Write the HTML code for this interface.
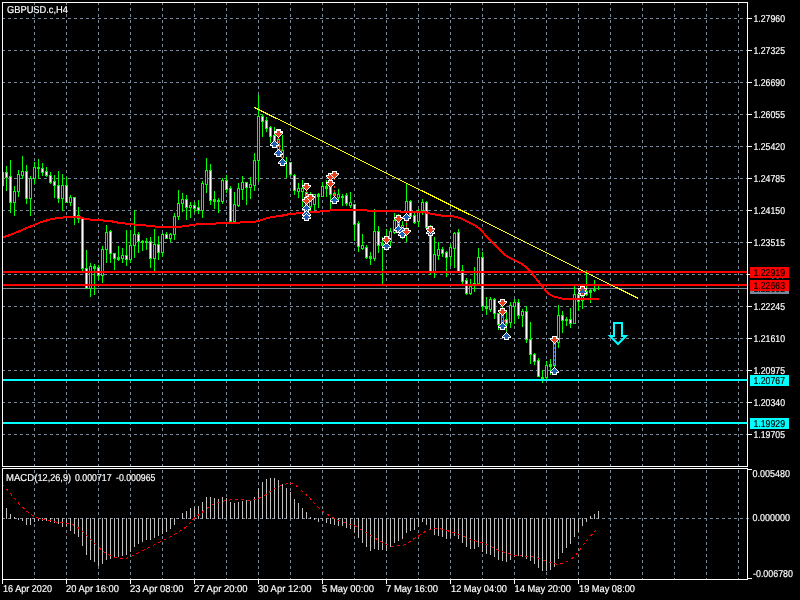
<!DOCTYPE html>
<html lang="en"><head><meta charset="utf-8"><title>GBPUSD.c,H4</title>
<style>html,body{margin:0;padding:0;background:#000;overflow:hidden}svg{display:block}</style></head>
<body>
<svg width="800" height="600" viewBox="0 0 800 600" shape-rendering="crispEdges" font-family="'Liberation Sans', sans-serif" font-size="10px">
<rect width="800" height="600" fill="#000"/>
<path d="M34.5 2V466M34.5 470V579M66.5 2V466M66.5 470V579M98.5 2V466M98.5 470V579M130.5 2V466M130.5 470V579M162.5 2V466M162.5 470V579M194.5 2V466M194.5 470V579M226.5 2V466M226.5 470V579M258.5 2V466M258.5 470V579M290.5 2V466M290.5 470V579M322.5 2V466M322.5 470V579M354.5 2V466M354.5 470V579M386.5 2V466M386.5 470V579M418.5 2V466M418.5 470V579M450.5 2V466M450.5 470V579M482.5 2V466M482.5 470V579M514.5 2V466M514.5 470V579M546.5 2V466M546.5 470V579M578.5 2V466M578.5 470V579M610.5 2V466M610.5 470V579M642.5 2V466M642.5 470V579M674.5 2V466M674.5 470V579M706.5 2V466M706.5 470V579M738.5 2V466M738.5 470V579M2 18.5H747M2 50.5H747M2 82.5H747M2 114.5H747M2 146.5H747M2 178.5H747M2 210.5H747M2 242.5H747M2 274.5H747M2 306.5H747M2 338.5H747M2 370.5H747M2 402.5H747M2 434.5H747M2 518.5H750" stroke="#778899" stroke-width="1" stroke-dasharray="3 3" fill="none"/>
<path d="M6.5 508V519M10.5 514V519M14.5 517V519M18.5 518V520M22.5 518V521M26.5 518V525M30.5 518V525M34.5 518V522M38.5 518V521M42.5 518V521M46.5 518V521M50.5 518V522M54.5 518V523M58.5 518V524M62.5 518V527M66.5 518V526M70.5 518V531M74.5 518V534M78.5 518V537M82.5 518V546M86.5 518V555M90.5 518V560M94.5 518V562M98.5 518V566M102.5 518V564M106.5 518V560M110.5 518V559M114.5 518V558M118.5 518V557M122.5 518V556M126.5 518V555M130.5 518V552M134.5 518V547M138.5 518V544M142.5 518V542M146.5 518V540M150.5 518V540M154.5 518V538M158.5 518V536M162.5 518V534M166.5 518V532M170.5 518V529M174.5 518V525M178.5 518V519M182.5 513V519M186.5 511V519M190.5 508V519M194.5 507V519M198.5 506V519M202.5 502V519M206.5 497V519M210.5 497V519M214.5 498V519M218.5 499V519M222.5 497V519M226.5 498V519M230.5 502V519M234.5 503V519M238.5 502V519M242.5 501V519M246.5 500V519M250.5 501V519M254.5 497V519M258.5 488V519M262.5 482V519M266.5 479V519M270.5 478V519M274.5 478V519M278.5 480V519M282.5 484V519M286.5 488V519M290.5 492V519M294.5 499V519M298.5 503V519M302.5 508V519M306.5 512V519M310.5 517V519M314.5 518V520M318.5 518V522M322.5 518V521M326.5 518V523M330.5 518V524M334.5 518V525M338.5 518V526M342.5 518V526M346.5 518V528M350.5 518V529M354.5 518V533M358.5 518V538M362.5 518V543M366.5 518V547M370.5 518V551M374.5 518V549M378.5 518V550M382.5 518V550M386.5 518V551M390.5 518V547M394.5 518V543M398.5 518V541M402.5 518V539M406.5 518V533M410.5 518V531M414.5 518V530M418.5 518V527M422.5 518V522M426.5 518V525M430.5 518V529M434.5 518V535M438.5 518V536M442.5 518V537M446.5 518V539M450.5 518V538M454.5 518V536M458.5 518V539M462.5 518V543M466.5 518V547M470.5 518V549M474.5 518V549M478.5 518V547M482.5 518V552M486.5 518V554M490.5 518V555M494.5 518V557M498.5 518V560M502.5 518V561M506.5 518V562M510.5 518V560M514.5 518V557M518.5 518V556M522.5 518V557M526.5 518V559M530.5 518V561M534.5 518V564M538.5 518V568M542.5 518V571M546.5 518V571M550.5 518V570M554.5 518V567M558.5 518V559M562.5 518V553M566.5 518V548M570.5 518V544M574.5 518V537M578.5 518V532M582.5 518V526M586.5 518V522M590.5 516V519M594.5 514V519M598.5 511V519" stroke="#C0C0C0" stroke-width="1" fill="none"/>
<polyline points="3,485 10,493 20,505 30,514 36,517.5 46,520 56,522 66,523 72,524 80,529 88,537 96,545 104,552 112,556.5 118,558 126,558.5 132,556 140,552 148,548 156,544 160,542 170,537 180,531 186,527 194,518.5 200,514 206,509 212,505 218,502.5 226,500.5 234,499.5 244,500 250,500.5 256,499.5 262,497 268,493 274,489 280,486 286,484 290,483 294,484.5 298,487 304,493 308,496 316,505 322,511 330,516 338,520 346,523 354,525.5 362,530 370,535 378,540 384,543 390,546 396,546 404,545 412,540 420,535 426,531 432,529 438,528.5 444,529.5 450,531.5 458,534 466,537.5 474,540.5 482,542.5 490,546 498,550 506,553 514,555 522,556 530,556.5 538,558 546,561 552,563 558,564.5 564,563 570,560 576,555 580,549.5 584,544 588,539 592,534.5 596,530" stroke="#FF0000" stroke-width="1" stroke-dasharray="3 3" stroke-dashoffset="1" fill="none"/>
<path d="M3 288.5H747" stroke="#778899" stroke-width="1"/>
<path d="M6.5 166V191M10.5 160V213M14.5 186V216M18.5 170V197M22.5 156V179M26.5 165V204M30.5 176V216M34.5 162V184M38.5 159V179M42.5 163V176M46.5 167V177M50.5 172V184M54.5 175V198M58.5 171V203M62.5 174V211M66.5 177V203M70.5 195V206M74.5 197V225M78.5 207V223M82.5 218V271M86.5 250V289M90.5 263V297M94.5 264V295M98.5 265V280M102.5 246V283M106.5 225V263M110.5 230V263M114.5 253V270M118.5 246V261M122.5 248V263M126.5 230V266M130.5 230V263M134.5 210V258M138.5 232V253M142.5 240V251M146.5 238V250M150.5 237V268M154.5 229V271M158.5 236V260M162.5 233V257M166.5 232V239M170.5 233V242M174.5 213V240M178.5 190V220M182.5 193V212M186.5 195V220M190.5 202V218M194.5 202V213M198.5 200V214M202.5 181V218M206.5 158V193M210.5 164V205M214.5 191V209M218.5 198V213M222.5 178V204M226.5 175V193M230.5 186V223M234.5 192V223M238.5 183V207M242.5 176V200M246.5 182V205M250.5 177V199M254.5 153V191M258.5 95V182M262.5 114V137M266.5 117V132M270.5 126V143M274.5 127V148M278.5 130V151M282.5 135V161M286.5 157V178M290.5 162V176M294.5 174V195M298.5 183V198M302.5 180V207M306.5 186V214M310.5 192V213M314.5 194V210M318.5 193V208M322.5 182V197M326.5 180V197M330.5 181V210M334.5 190V198M338.5 189V201M342.5 194V206M346.5 193V206M350.5 192V208M354.5 204V241M358.5 221V252M362.5 234V250M366.5 245V259M370.5 252V265M374.5 209V261M378.5 226V253M382.5 237V285M386.5 229V250M390.5 228V247M394.5 213V234M398.5 214V233M402.5 221V239M406.5 183V242M410.5 200V217M414.5 213V224M418.5 209V227M422.5 199V215M426.5 201V229M430.5 225V275M434.5 237V278M438.5 242V260M442.5 247V257M446.5 251V277M450.5 244V266M454.5 232V268M458.5 229V272M462.5 265V285M466.5 278V295M470.5 279V295M474.5 267V292M478.5 248V285M482.5 252V311M486.5 297V315M490.5 297V312M494.5 298V319M498.5 313V330M502.5 302V329M506.5 312V333M510.5 302V328M514.5 299V324M518.5 299V319M522.5 309V327M526.5 306V343M530.5 322V364M534.5 353V365M538.5 358V377M542.5 370V383M546.5 361V379M550.5 359V375M554.5 338V367M558.5 305V348M562.5 311V333M566.5 317V326M570.5 308V328M574.5 286V324M578.5 294V311M582.5 289V309M586.5 270V296M590.5 289V303M594.5 280V292M598.5 286V290M3.5 172V186" stroke="#00FF00" stroke-width="1" fill="none"/>
<path d="M37 167h3v2h-3zM93 266h3v3h-3zM117 257h3v3h-3zM141 241h3v2h-3zM145 241h3v2h-3zM213 199h3v3h-3zM217 200h3v2h-3zM317 194h3v3h-3zM325 186h3v3h-3zM333 193h3v3h-3zM341 196h3v2h-3zM369 256h3v3h-3zM381 243h3v3h-3zM473 283h3v2h-3zM485 306h3v3h-3zM541 377h3v3h-3zM549 364h3v3h-3zM565 319h3v2h-3zM589 290h3v3h-3zM593 289h3v2h-3zM597 288h3v1h-3z" fill="#00FF00"/>
<path d="M13.5 191.5h2v11h-2zM17.5 174.5h2v17h-2zM21.5 171.5h2v4h-2zM29.5 178.5h2v20h-2zM33.5 167.5h2v11h-2zM61.5 185.5h2v13h-2zM69.5 197.5h2v5h-2zM77.5 215.5h2v3h-2zM89.5 266.5h2v22h-2zM101.5 249.5h2v26h-2zM105.5 232.5h2v17h-2zM121.5 255.5h2v3h-2zM129.5 245.5h2v14h-2zM133.5 234.5h2v11h-2zM153.5 244.5h2v14h-2zM161.5 234.5h2v18h-2zM169.5 234.5h2v4h-2zM173.5 216.5h2v18h-2zM177.5 203.5h2v13h-2zM181.5 199.5h2v4h-2zM189.5 205.5h2v2h-2zM201.5 183.5h2v27h-2zM205.5 170.5h2v14h-2zM221.5 180.5h2v21h-2zM233.5 204.5h2v17h-2zM237.5 188.5h2v17h-2zM241.5 182.5h2v7h-2zM249.5 184.5h2v3h-2zM253.5 160.5h2v25h-2zM257.5 116.5h2v44h-2zM277.5 139.5h2v10h-2zM281.5 150.5h2v7h-2zM297.5 188.5h2v3h-2zM301.5 188.5h2v3h-2zM309.5 198.5h2v8h-2zM313.5 194.5h2v10h-2zM321.5 186.5h2v10h-2zM337.5 194.5h2v3h-2zM349.5 202.5h2v3h-2zM361.5 245.5h2v3h-2zM373.5 231.5h2v27h-2zM389.5 231.5h2v10h-2zM393.5 220.5h2v12h-2zM401.5 225.5h2v6h-2zM405.5 201.5h2v11h-2zM417.5 211.5h2v10h-2zM421.5 202.5h2v8h-2zM433.5 254.5h2v17h-2zM437.5 249.5h2v6h-2zM449.5 247.5h2v9h-2zM453.5 233.5h2v15h-2zM469.5 286.5h2v7h-2zM477.5 257.5h2v26h-2zM489.5 299.5h2v10h-2zM501.5 313.5h2v9h-2zM509.5 305.5h2v17h-2zM513.5 302.5h2v4h-2zM521.5 311.5h2v4h-2zM545.5 365.5h2v12h-2zM553.5 343.5h2v22h-2zM557.5 315.5h2v27h-2zM573.5 294.5h2v29h-2zM581.5 296.5h2v4h-2zM585.5 291.5h2v3h-2z" stroke="#00FF00" stroke-width="1" fill="#000"/>
<path d="M5.5 172.5h2v5h-2zM9.5 176.5h2v26h-2zM25.5 171.5h2v27h-2zM41.5 168.5h2v4h-2zM45.5 171.5h2v4h-2zM49.5 175.5h2v7h-2zM53.5 181.5h2v4h-2zM57.5 185.5h2v13h-2zM65.5 185.5h2v17h-2zM73.5 197.5h2v19h-2zM81.5 218.5h2v50h-2zM85.5 268.5h2v20h-2zM97.5 267.5h2v8h-2zM109.5 231.5h2v22h-2zM113.5 253.5h2v5h-2zM125.5 255.5h2v4h-2zM137.5 234.5h2v7h-2zM149.5 241.5h2v17h-2zM157.5 244.5h2v8h-2zM165.5 234.5h2v4h-2zM185.5 199.5h2v8h-2zM193.5 205.5h2v3h-2zM197.5 207.5h2v3h-2zM209.5 170.5h2v30h-2zM225.5 180.5h2v9h-2zM229.5 188.5h2v33h-2zM245.5 182.5h2v5h-2zM261.5 116.5h2v5h-2zM265.5 120.5h2v8h-2zM269.5 127.5h2v9h-2zM273.5 135.5h2v5h-2zM289.5 162.5h2v12h-2zM293.5 175.5h2v15h-2zM305.5 192.5h2v14h-2zM329.5 187.5h2v7h-2zM345.5 195.5h2v8h-2zM353.5 204.5h2v20h-2zM357.5 223.5h2v23h-2zM365.5 247.5h2v10h-2zM377.5 231.5h2v14h-2zM385.5 237.5h2v8h-2zM397.5 218.5h2v9h-2zM409.5 201.5h2v15h-2zM413.5 215.5h2v7h-2zM425.5 202.5h2v25h-2zM429.5 227.5h2v44h-2zM441.5 249.5h2v4h-2zM445.5 252.5h2v5h-2zM457.5 232.5h2v39h-2zM461.5 270.5h2v11h-2zM465.5 280.5h2v13h-2zM481.5 257.5h2v49h-2zM493.5 299.5h2v14h-2zM497.5 313.5h2v11h-2zM505.5 319.5h2v4h-2zM517.5 302.5h2v13h-2zM525.5 311.5h2v28h-2zM529.5 339.5h2v15h-2zM533.5 354.5h2v7h-2zM537.5 360.5h2v16h-2zM561.5 315.5h2v5h-2zM569.5 319.5h2v4h-2zM577.5 294.5h2v7h-2z" stroke="#00FF00" stroke-width="1" fill="#FFF"/>
<path d="M3 272H747M3 285H747" stroke="#FF0000" stroke-width="2"/>
<path d="M3 380H747M3 423H747" stroke="#00FFFF" stroke-width="2"/>
<polyline points="3,237.3 10,235 18,231.8 26,228.3 34,225 42,221.8 50,219.5 58,218 66,217.2 80,217.4 84,218.5 90,219.5 96,220 110,221 120,223 134,224.5 146,225.5 155,226.5 182,226.5 186,226 192,225 200,224 214,224 218,223 238,223 242,222 254,222 258,221 262,220 266,218.5 272,217 280,216 290,214 300,213.2 310,212.5 322,211.3 335,210 345,209.8 365,209.8 368,211 398,211 402,212 425,212 428,213 432,214 438,215 444,216 454,216.5 458,217.5 462,219 468,222 474,225 478,227.5 482,231 486,236 490,240 494,244 500,250 505,255 510,258 516,261 522,264 526,267 530,271 534,276 538,281 542,286 546,291 550,294.5 554,296.5 558,297.5 562,298.5 566,299 599,299" stroke="#FF0000" stroke-width="2" fill="none" stroke-linejoin="round"/>
<path d="M254.5 107.5L638.5 298.5" stroke="#FFFF00" stroke-width="1"/>
<path d="M278.5 137L274.5 141" stroke="#E8401C" stroke-width="1" stroke-dasharray="2 2" shape-rendering="auto"/><path d="M278.5 137L278.5 150" stroke="#E8401C" stroke-width="1" stroke-dasharray="2 2" shape-rendering="auto"/><path d="M278.5 137L282.5 159" stroke="#E8401C" stroke-width="1" stroke-dasharray="2 2" shape-rendering="auto"/><path d="M276 129h5v1h-5zM276 130h5v1h-5zM274 131h9v1h-9zM274 132h9v1h-9zM275 133h7v1h-7zM276 134h5v1h-5zM277 135h3v1h-3zM278 136h1v1h-1z" fill="#FFF"/><path d="M277 130h3v1h-3zM277 131h3v1h-3zM275 132h7v1h-7zM276 133h5v1h-5zM277 134h3v1h-3zM278 135h1v1h-1z" fill="#E8401C"/><path d="M276 130h5v1h-5zM276 131h5v1h-5zM274 132h9v1h-9zM274 133h9v1h-9zM275 134h7v1h-7zM276 135h5v1h-5zM277 136h3v1h-3zM278 137h1v1h-1z" fill="#FFF"/><path d="M277 131h3v1h-3zM277 132h3v1h-3zM275 133h7v1h-7zM276 134h5v1h-5zM277 135h3v1h-3zM278 136h1v1h-1z" fill="#E8401C"/><path d="M272 147h5v1h-5zM272 146h5v1h-5zM270 145h9v1h-9zM270 144h9v1h-9zM271 143h7v1h-7zM272 142h5v1h-5zM273 141h3v1h-3zM274 140h1v1h-1z" fill="#FFF"/><path d="M273 146h3v1h-3zM273 145h3v1h-3zM271 144h7v1h-7zM272 143h5v1h-5zM273 142h3v1h-3zM274 141h1v1h-1z" fill="#1C5DB8"/><path d="M276 156h5v1h-5zM276 155h5v1h-5zM274 154h9v1h-9zM274 153h9v1h-9zM275 152h7v1h-7zM276 151h5v1h-5zM277 150h3v1h-3zM278 149h1v1h-1z" fill="#FFF"/><path d="M277 155h3v1h-3zM277 154h3v1h-3zM275 153h7v1h-7zM276 152h5v1h-5zM277 151h3v1h-3zM278 150h1v1h-1z" fill="#1C5DB8"/><path d="M280 165h5v1h-5zM280 164h5v1h-5zM278 163h9v1h-9zM278 162h9v1h-9zM279 161h7v1h-7zM280 160h5v1h-5zM281 159h3v1h-3zM282 158h1v1h-1z" fill="#FFF"/><path d="M281 164h3v1h-3zM281 163h3v1h-3zM279 162h7v1h-7zM280 161h5v1h-5zM281 160h3v1h-3zM282 159h1v1h-1z" fill="#1C5DB8"/><path d="M306.5 190L306.5 197" stroke="#E8401C" stroke-width="1" stroke-dasharray="2 2" shape-rendering="auto"/><path d="M304 183h5v1h-5zM304 184h5v1h-5zM302 185h9v1h-9zM302 186h9v1h-9zM303 187h7v1h-7zM304 188h5v1h-5zM305 189h3v1h-3zM306 190h1v1h-1z" fill="#FFF"/><path d="M305 184h3v1h-3zM305 185h3v1h-3zM303 186h7v1h-7zM304 187h5v1h-5zM305 188h3v1h-3zM306 189h1v1h-1z" fill="#E8401C"/><path d="M304 197h5v1h-5zM304 198h5v1h-5zM302 199h9v1h-9zM302 200h9v1h-9zM303 201h7v1h-7zM304 202h5v1h-5zM305 203h3v1h-3zM306 204h1v1h-1z" fill="#FFF"/><path d="M305 198h3v1h-3zM305 199h3v1h-3zM303 200h7v1h-7zM304 201h5v1h-5zM305 202h3v1h-3zM306 203h1v1h-1z" fill="#E8401C"/><path d="M308 194h5v1h-5zM308 195h5v1h-5zM306 196h9v1h-9zM306 197h9v1h-9zM307 198h7v1h-7zM308 199h5v1h-5zM309 200h3v1h-3zM310 201h1v1h-1z" fill="#FFF"/><path d="M309 195h3v1h-3zM309 196h3v1h-3zM307 197h7v1h-7zM308 198h5v1h-5zM309 199h3v1h-3zM310 200h1v1h-1z" fill="#E8401C"/><path d="M304 211h5v1h-5zM304 210h5v1h-5zM302 209h9v1h-9zM302 208h9v1h-9zM303 207h7v1h-7zM304 206h5v1h-5zM305 205h3v1h-3zM306 204h1v1h-1z" fill="#FFF"/><path d="M305 210h3v1h-3zM305 209h3v1h-3zM303 208h7v1h-7zM304 207h5v1h-5zM305 206h3v1h-3zM306 205h1v1h-1z" fill="#1C5DB8"/><path d="M304 217h5v1h-5zM304 216h5v1h-5zM302 215h9v1h-9zM302 214h9v1h-9zM303 213h7v1h-7zM304 212h5v1h-5zM305 211h3v1h-3zM306 210h1v1h-1z" fill="#FFF"/><path d="M305 216h3v1h-3zM305 215h3v1h-3zM303 214h7v1h-7zM304 213h5v1h-5zM305 212h3v1h-3zM306 211h1v1h-1z" fill="#1C5DB8"/><path d="M304 220h5v1h-5zM304 219h5v1h-5zM302 218h9v1h-9zM302 217h9v1h-9zM303 216h7v1h-7zM304 215h5v1h-5zM305 214h3v1h-3zM306 213h1v1h-1z" fill="#FFF"/><path d="M305 219h3v1h-3zM305 218h3v1h-3zM303 217h7v1h-7zM304 216h5v1h-5zM305 215h3v1h-3zM306 214h1v1h-1z" fill="#1C5DB8"/><path d="M334.5 178L334.5 197" stroke="#E8401C" stroke-width="1" stroke-dasharray="2 2" shape-rendering="auto"/><path d="M328 173h5v1h-5zM328 174h5v1h-5zM326 175h9v1h-9zM326 176h9v1h-9zM327 177h7v1h-7zM328 178h5v1h-5zM329 179h3v1h-3zM330 180h1v1h-1z" fill="#FFF"/><path d="M329 174h3v1h-3zM329 175h3v1h-3zM327 176h7v1h-7zM328 177h5v1h-5zM329 178h3v1h-3zM330 179h1v1h-1z" fill="#E8401C"/><path d="M332 171h5v1h-5zM332 172h5v1h-5zM330 173h9v1h-9zM330 174h9v1h-9zM331 175h7v1h-7zM332 176h5v1h-5zM333 177h3v1h-3zM334 178h1v1h-1z" fill="#FFF"/><path d="M333 172h3v1h-3zM333 173h3v1h-3zM331 174h7v1h-7zM332 175h5v1h-5zM333 176h3v1h-3zM334 177h1v1h-1z" fill="#E8401C"/><path d="M328 180h5v1h-5zM328 181h5v1h-5zM326 182h9v1h-9zM326 183h9v1h-9zM327 184h7v1h-7zM328 185h5v1h-5zM329 186h3v1h-3zM330 187h1v1h-1z" fill="#FFF"/><path d="M329 181h3v1h-3zM329 182h3v1h-3zM327 183h7v1h-7zM328 184h5v1h-5zM329 185h3v1h-3zM330 186h1v1h-1z" fill="#E8401C"/><path d="M332 203h5v1h-5zM332 202h5v1h-5zM330 201h9v1h-9zM330 200h9v1h-9zM331 199h7v1h-7zM332 198h5v1h-5zM333 197h3v1h-3zM334 196h1v1h-1z" fill="#FFF"/><path d="M333 202h3v1h-3zM333 201h3v1h-3zM331 200h7v1h-7zM332 199h5v1h-5zM333 198h3v1h-3zM334 197h1v1h-1z" fill="#1C5DB8"/><path d="M384 249h5v1h-5zM384 248h5v1h-5zM382 247h9v1h-9zM382 246h9v1h-9zM383 245h7v1h-7zM384 244h5v1h-5zM385 243h3v1h-3zM386 242h1v1h-1z" fill="#FFF"/><path d="M385 248h3v1h-3zM385 247h3v1h-3zM383 246h7v1h-7zM384 245h5v1h-5zM385 244h3v1h-3zM386 243h1v1h-1z" fill="#1C5DB8"/><path d="M384 236h5v1h-5zM384 237h5v1h-5zM382 238h9v1h-9zM382 239h9v1h-9zM383 240h7v1h-7zM384 241h5v1h-5zM385 242h3v1h-3zM386 243h1v1h-1z" fill="#FFF"/><path d="M385 237h3v1h-3zM385 238h3v1h-3zM383 239h7v1h-7zM384 240h5v1h-5zM385 241h3v1h-3zM386 242h1v1h-1z" fill="#E8401C"/><path d="M398.5 222L398.5 226" stroke="#1C5DB8" stroke-width="1" stroke-dasharray="2 2" shape-rendering="auto"/><path d="M406.5 221L406.5 228" stroke="#E8401C" stroke-width="1" stroke-dasharray="2 2" shape-rendering="auto"/><path d="M396 215h5v1h-5zM396 216h5v1h-5zM394 217h9v1h-9zM394 218h9v1h-9zM395 219h7v1h-7zM396 220h5v1h-5zM397 221h3v1h-3zM398 222h1v1h-1z" fill="#FFF"/><path d="M397 216h3v1h-3zM397 217h3v1h-3zM395 218h7v1h-7zM396 219h5v1h-5zM397 220h3v1h-3zM398 221h1v1h-1z" fill="#E8401C"/><path d="M404 220h5v1h-5zM404 219h5v1h-5zM402 218h9v1h-9zM402 217h9v1h-9zM403 216h7v1h-7zM404 215h5v1h-5zM405 214h3v1h-3zM406 213h1v1h-1z" fill="#FFF"/><path d="M405 219h3v1h-3zM405 218h3v1h-3zM403 217h7v1h-7zM404 216h5v1h-5zM405 215h3v1h-3zM406 214h1v1h-1z" fill="#1C5DB8"/><path d="M396 232h5v1h-5zM396 231h5v1h-5zM394 230h9v1h-9zM394 229h9v1h-9zM395 228h7v1h-7zM396 227h5v1h-5zM397 226h3v1h-3zM398 225h1v1h-1z" fill="#FFF"/><path d="M397 231h3v1h-3zM397 230h3v1h-3zM395 229h7v1h-7zM396 228h5v1h-5zM397 227h3v1h-3zM398 226h1v1h-1z" fill="#1C5DB8"/><path d="M400 234h5v1h-5zM400 233h5v1h-5zM398 232h9v1h-9zM398 231h9v1h-9zM399 230h7v1h-7zM400 229h5v1h-5zM401 228h3v1h-3zM402 227h1v1h-1z" fill="#FFF"/><path d="M401 233h3v1h-3zM401 232h3v1h-3zM399 231h7v1h-7zM400 230h5v1h-5zM401 229h3v1h-3zM402 228h1v1h-1z" fill="#1C5DB8"/><path d="M400 237h5v1h-5zM400 236h5v1h-5zM398 235h9v1h-9zM398 234h9v1h-9zM399 233h7v1h-7zM400 232h5v1h-5zM401 231h3v1h-3zM402 230h1v1h-1z" fill="#FFF"/><path d="M401 236h3v1h-3zM401 235h3v1h-3zM399 234h7v1h-7zM400 233h5v1h-5zM401 232h3v1h-3zM402 231h1v1h-1z" fill="#1C5DB8"/><path d="M404 228h5v1h-5zM404 229h5v1h-5zM402 230h9v1h-9zM402 231h9v1h-9zM403 232h7v1h-7zM404 233h5v1h-5zM405 234h3v1h-3zM406 235h1v1h-1z" fill="#FFF"/><path d="M405 229h3v1h-3zM405 230h3v1h-3zM403 231h7v1h-7zM404 232h5v1h-5zM405 233h3v1h-3zM406 234h1v1h-1z" fill="#E8401C"/><path d="M428 235h5v1h-5zM428 234h5v1h-5zM426 233h9v1h-9zM426 232h9v1h-9zM427 231h7v1h-7zM428 230h5v1h-5zM429 229h3v1h-3zM430 228h1v1h-1z" fill="#FFF"/><path d="M429 234h3v1h-3zM429 233h3v1h-3zM427 232h7v1h-7zM428 231h5v1h-5zM429 230h3v1h-3zM430 229h1v1h-1z" fill="#1C5DB8"/><path d="M428 226h5v1h-5zM428 227h5v1h-5zM426 228h9v1h-9zM426 229h9v1h-9zM427 230h7v1h-7zM428 231h5v1h-5zM429 232h3v1h-3zM430 233h1v1h-1z" fill="#FFF"/><path d="M429 227h3v1h-3zM429 228h3v1h-3zM427 229h7v1h-7zM428 230h5v1h-5zM429 231h3v1h-3zM430 232h1v1h-1z" fill="#E8401C"/><path d="M502.5 316L502.5 323" stroke="#1C5DB8" stroke-width="1" stroke-dasharray="2 2" shape-rendering="auto"/><path d="M503.5 316L506.5 332" stroke="#E8401C" stroke-width="1" stroke-dasharray="2 2" shape-rendering="auto"/><path d="M500 299h5v1h-5zM500 300h5v1h-5zM498 301h9v1h-9zM498 302h9v1h-9zM499 303h7v1h-7zM500 304h5v1h-5zM501 305h3v1h-3zM502 306h1v1h-1z" fill="#FFF"/><path d="M501 300h3v1h-3zM501 301h3v1h-3zM499 302h7v1h-7zM500 303h5v1h-5zM501 304h3v1h-3zM502 305h1v1h-1z" fill="#E8401C"/><path d="M500 308h5v1h-5zM500 309h5v1h-5zM498 310h9v1h-9zM498 311h9v1h-9zM499 312h7v1h-7zM500 313h5v1h-5zM501 314h3v1h-3zM502 315h1v1h-1z" fill="#FFF"/><path d="M501 309h3v1h-3zM501 310h3v1h-3zM499 311h7v1h-7zM500 312h5v1h-5zM501 313h3v1h-3zM502 314h1v1h-1z" fill="#E8401C"/><path d="M500 329h5v1h-5zM500 328h5v1h-5zM498 327h9v1h-9zM498 326h9v1h-9zM499 325h7v1h-7zM500 324h5v1h-5zM501 323h3v1h-3zM502 322h1v1h-1z" fill="#FFF"/><path d="M501 328h3v1h-3zM501 327h3v1h-3zM499 326h7v1h-7zM500 325h5v1h-5zM501 324h3v1h-3zM502 323h1v1h-1z" fill="#1C5DB8"/><path d="M504 339h5v1h-5zM504 338h5v1h-5zM502 337h9v1h-9zM502 336h9v1h-9zM503 335h7v1h-7zM504 334h5v1h-5zM505 333h3v1h-3zM506 332h1v1h-1z" fill="#FFF"/><path d="M505 338h3v1h-3zM505 337h3v1h-3zM503 336h7v1h-7zM504 335h5v1h-5zM505 334h3v1h-3zM506 333h1v1h-1z" fill="#1C5DB8"/><path d="M554.5 343L554.5 368" stroke="#1C5DB8" stroke-width="1" stroke-dasharray="2 2" shape-rendering="auto"/><path d="M552 336h5v1h-5zM552 337h5v1h-5zM550 338h9v1h-9zM550 339h9v1h-9zM551 340h7v1h-7zM552 341h5v1h-5zM553 342h3v1h-3zM554 343h1v1h-1z" fill="#FFF"/><path d="M553 337h3v1h-3zM553 338h3v1h-3zM551 339h7v1h-7zM552 340h5v1h-5zM553 341h3v1h-3zM554 342h1v1h-1z" fill="#E8401C"/><path d="M552 374h5v1h-5zM552 373h5v1h-5zM550 372h9v1h-9zM550 371h9v1h-9zM551 370h7v1h-7zM552 369h5v1h-5zM553 368h3v1h-3zM554 367h1v1h-1z" fill="#FFF"/><path d="M553 373h3v1h-3zM553 372h3v1h-3zM551 371h7v1h-7zM552 370h5v1h-5zM553 369h3v1h-3zM554 368h1v1h-1z" fill="#1C5DB8"/><path d="M580 286h5v1h-5zM580 287h5v1h-5zM578 288h9v1h-9zM578 289h9v1h-9zM579 290h7v1h-7zM580 291h5v1h-5zM581 292h3v1h-3zM582 293h1v1h-1z" fill="#FFF"/><path d="M580 295h5v1h-5zM580 294h5v1h-5zM578 293h9v1h-9zM578 292h9v1h-9zM579 291h7v1h-7zM580 290h5v1h-5zM581 289h3v1h-3zM582 288h1v1h-1z" fill="#FFF"/><path d="M581 287h3v1h-3zM581 288h3v1h-3zM579 289h7v1h-7zM580 290h5v1h-5zM581 291h3v1h-3zM582 292h1v1h-1z" fill="#E8401C"/><path d="M581 294h3v1h-3zM581 293h3v1h-3zM579 292h7v1h-7zM580 291h5v1h-5zM581 290h3v1h-3zM582 289h1v1h-1z" fill="#1C5DB8"/><path d="M582.5 293V295" stroke="#E8401C" stroke-width="1"/>
<path d="M614 323H622V336H626L618 344L610 336H614Z" stroke="#00FFFF" stroke-width="2" fill="none" shape-rendering="auto" stroke-linejoin="miter"/>
<path d="M2.5 2V466.5H747.5V2M2 2.5H748M2.5 468V579.5H747.5V468M2 468.5H748" stroke="#FFF" stroke-width="1" fill="none"/>
<path d="M748 18.5H752M748 50.5H752M748 82.5H752M748 114.5H752M748 146.5H752M748 178.5H752M748 210.5H752M748 242.5H752M748 274.5H752M748 306.5H752M748 338.5H752M748 370.5H752M748 402.5H752M748 434.5H752M748 469.5H752M748 578.5H752M66.5 580V584M130.5 580V584M194.5 580V584M258.5 580V584M322.5 580V584M386.5 580V584M450.5 580V584M514.5 580V584M578.5 580V584M2.5 580V584" stroke="#FFF" stroke-width="1" fill="none"/>
<text x="7" y="13" fill="#FFF" stroke="#FFF" stroke-width="0.18" font-size="10px" textLength="61" lengthAdjust="spacingAndGlyphs" text-rendering="geometricPrecision">GBPUSD.c,H4</text>
<text x="753.5" y="22" fill="#FFF" stroke="#FFF" stroke-width="0.18" font-size="10px" textLength="31.5" lengthAdjust="spacingAndGlyphs" text-rendering="geometricPrecision">1.27960</text>
<text x="753.5" y="54" fill="#FFF" stroke="#FFF" stroke-width="0.18" font-size="10px" textLength="31.5" lengthAdjust="spacingAndGlyphs" text-rendering="geometricPrecision">1.27325</text>
<text x="753.5" y="86" fill="#FFF" stroke="#FFF" stroke-width="0.18" font-size="10px" textLength="31.5" lengthAdjust="spacingAndGlyphs" text-rendering="geometricPrecision">1.26690</text>
<text x="753.5" y="118" fill="#FFF" stroke="#FFF" stroke-width="0.18" font-size="10px" textLength="31.5" lengthAdjust="spacingAndGlyphs" text-rendering="geometricPrecision">1.26055</text>
<text x="753.5" y="150" fill="#FFF" stroke="#FFF" stroke-width="0.18" font-size="10px" textLength="31.5" lengthAdjust="spacingAndGlyphs" text-rendering="geometricPrecision">1.25420</text>
<text x="753.5" y="182" fill="#FFF" stroke="#FFF" stroke-width="0.18" font-size="10px" textLength="31.5" lengthAdjust="spacingAndGlyphs" text-rendering="geometricPrecision">1.24785</text>
<text x="753.5" y="214" fill="#FFF" stroke="#FFF" stroke-width="0.18" font-size="10px" textLength="31.5" lengthAdjust="spacingAndGlyphs" text-rendering="geometricPrecision">1.24150</text>
<text x="753.5" y="246" fill="#FFF" stroke="#FFF" stroke-width="0.18" font-size="10px" textLength="31.5" lengthAdjust="spacingAndGlyphs" text-rendering="geometricPrecision">1.23515</text>
<text x="753.5" y="278" fill="#FFF" stroke="#FFF" stroke-width="0.18" font-size="10px" textLength="31.5" lengthAdjust="spacingAndGlyphs" text-rendering="geometricPrecision">1.22880</text>
<text x="753.5" y="310" fill="#FFF" stroke="#FFF" stroke-width="0.18" font-size="10px" textLength="31.5" lengthAdjust="spacingAndGlyphs" text-rendering="geometricPrecision">1.22245</text>
<text x="753.5" y="342" fill="#FFF" stroke="#FFF" stroke-width="0.18" font-size="10px" textLength="31.5" lengthAdjust="spacingAndGlyphs" text-rendering="geometricPrecision">1.21610</text>
<text x="753.5" y="374" fill="#FFF" stroke="#FFF" stroke-width="0.18" font-size="10px" textLength="31.5" lengthAdjust="spacingAndGlyphs" text-rendering="geometricPrecision">1.20975</text>
<text x="753.5" y="406" fill="#FFF" stroke="#FFF" stroke-width="0.18" font-size="10px" textLength="31.5" lengthAdjust="spacingAndGlyphs" text-rendering="geometricPrecision">1.20340</text>
<text x="753.5" y="438" fill="#FFF" stroke="#FFF" stroke-width="0.18" font-size="10px" textLength="31.5" lengthAdjust="spacingAndGlyphs" text-rendering="geometricPrecision">1.19705</text>
<rect x="750" y="283" width="39" height="11" fill="#778899"/>
<text x="753.5" y="292" fill="#000" stroke="#000" stroke-width="0.18" font-size="10px" textLength="31.5" lengthAdjust="spacingAndGlyphs" text-rendering="geometricPrecision">1.22602</text>
<rect x="750" y="267" width="39" height="11" fill="#FF0000"/><text x="753.5" y="276" fill="#000" stroke="#000" stroke-width="0.18" font-size="10px" textLength="31.5" lengthAdjust="spacingAndGlyphs" text-rendering="geometricPrecision">1.22919</text>
<rect x="750" y="280" width="39" height="11" fill="#FF0000"/><text x="753.5" y="289" fill="#000" stroke="#000" stroke-width="0.18" font-size="10px" textLength="31.5" lengthAdjust="spacingAndGlyphs" text-rendering="geometricPrecision">1.22663</text>
<rect x="750" y="375" width="39" height="11" fill="#00FFFF"/><text x="753.5" y="384" fill="#000" stroke="#000" stroke-width="0.18" font-size="10px" textLength="31.5" lengthAdjust="spacingAndGlyphs" text-rendering="geometricPrecision">1.20767</text>
<rect x="750" y="418" width="39" height="11" fill="#00FFFF"/><text x="753.5" y="427" fill="#000" stroke="#000" stroke-width="0.18" font-size="10px" textLength="31.5" lengthAdjust="spacingAndGlyphs" text-rendering="geometricPrecision">1.19929</text>
<text y="481" fill="#FFF" stroke="#FFF" stroke-width="0.18" font-size="10px" text-rendering="geometricPrecision"><tspan x="6" textLength="28" lengthAdjust="spacingAndGlyphs">MACD</tspan><tspan x="34.5" textLength="36.5" lengthAdjust="spacingAndGlyphs">(12,26,9)</tspan> <tspan x="75" textLength="36.5" lengthAdjust="spacingAndGlyphs">0.000717</tspan> <tspan x="116" textLength="39.5" lengthAdjust="spacingAndGlyphs">-0.000965</tspan></text>
<text x="752.5" y="477" fill="#FFF" stroke="#FFF" stroke-width="0.18" font-size="10px" textLength="37.5" lengthAdjust="spacingAndGlyphs" text-rendering="geometricPrecision">0.005480</text>
<text x="752.5" y="521" fill="#FFF" stroke="#FFF" stroke-width="0.18" font-size="10px" textLength="37.5" lengthAdjust="spacingAndGlyphs" text-rendering="geometricPrecision">0.000000</text>
<text x="753" y="577" fill="#FFF" stroke="#FFF" stroke-width="0.18" font-size="10px" textLength="40" lengthAdjust="spacingAndGlyphs" text-rendering="geometricPrecision">-0.006780</text>
<text x="3" y="592" fill="#FFF" stroke="#FFF" stroke-width="0.18" font-size="10px" textLength="49" lengthAdjust="spacingAndGlyphs" text-rendering="geometricPrecision">16 Apr 2020</text>
<text x="66" y="592" fill="#FFF" stroke="#FFF" stroke-width="0.18" font-size="10px" textLength="53" lengthAdjust="spacingAndGlyphs" text-rendering="geometricPrecision">20 Apr 16:00</text>
<text x="130" y="592" fill="#FFF" stroke="#FFF" stroke-width="0.18" font-size="10px" textLength="53.5" lengthAdjust="spacingAndGlyphs" text-rendering="geometricPrecision">23 Apr 08:00</text>
<text x="194" y="592" fill="#FFF" stroke="#FFF" stroke-width="0.18" font-size="10px" textLength="53.5" lengthAdjust="spacingAndGlyphs" text-rendering="geometricPrecision">27 Apr 20:00</text>
<text x="258" y="592" fill="#FFF" stroke="#FFF" stroke-width="0.18" font-size="10px" textLength="53.5" lengthAdjust="spacingAndGlyphs" text-rendering="geometricPrecision">30 Apr 12:00</text>
<text x="322" y="592" fill="#FFF" stroke="#FFF" stroke-width="0.18" font-size="10px" textLength="52" lengthAdjust="spacingAndGlyphs" text-rendering="geometricPrecision">5 May 00:00</text>
<text x="386" y="592" fill="#FFF" stroke="#FFF" stroke-width="0.18" font-size="10px" textLength="52" lengthAdjust="spacingAndGlyphs" text-rendering="geometricPrecision">7 May 16:00</text>
<text x="451" y="592" fill="#FFF" stroke="#FFF" stroke-width="0.18" font-size="10px" textLength="56" lengthAdjust="spacingAndGlyphs" text-rendering="geometricPrecision">12 May 04:00</text>
<text x="514.5" y="592" fill="#FFF" stroke="#FFF" stroke-width="0.18" font-size="10px" textLength="56.5" lengthAdjust="spacingAndGlyphs" text-rendering="geometricPrecision">14 May 20:00</text>
<text x="579" y="592" fill="#FFF" stroke="#FFF" stroke-width="0.18" font-size="10px" textLength="56" lengthAdjust="spacingAndGlyphs" text-rendering="geometricPrecision">19 May 08:00</text>
</svg>
</body></html>
